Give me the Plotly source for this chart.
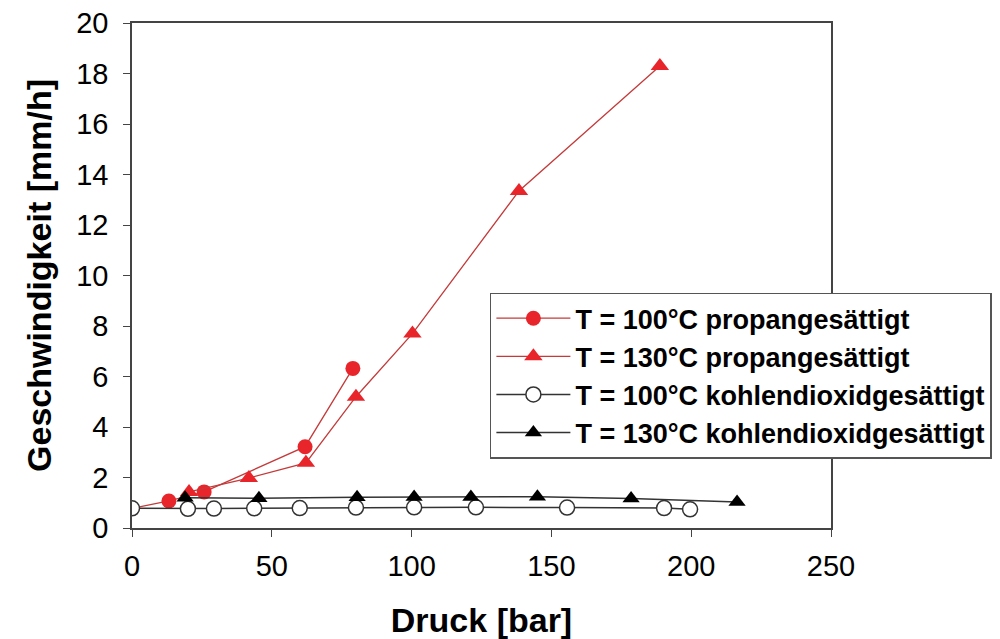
import plotly.graph_objects as go

# Druck [bar] and Geschwindigkeit [mm/h]
p_100_propan = [0, 13.2, 25.8, 61.9, 79.0]
v_100_propan = [0.78, 1.07, 1.43, 3.22, 6.32]

p_130_propan = [20.4, 41.8, 62.2, 80.1, 100.3, 138.4, 188.8]
v_130_propan = [1.43, 1.98, 2.58, 5.2, 7.7, 13.35, 18.3]

p_100_co2 = [0, 20.0, 29.3, 43.7, 60.0, 80.1, 100.9, 123.0, 155.6, 190.3, 199.6]
v_100_co2 = [0.78, 0.76, 0.77, 0.78, 0.79, 0.81, 0.82, 0.82, 0.81, 0.79, 0.74]

p_130_co2 = [19.0, 45.4, 80.5, 100.9, 121.2, 145.0, 178.5, 216.4]
v_130_co2 = [1.2, 1.18, 1.22, 1.23, 1.23, 1.24, 1.17, 1.03]

names = [
    "T = 100°C propangesättigt",
    "T = 130°C propangesättigt",
    "T = 100°C kohlendioxidgesättigt",
    "T = 130°C kohlendioxidgesättigt",
]

x_ticks = [0, 50, 100, 150, 200, 250]
y_ticks = [0, 2, 4, 6, 8, 10, 12, 14, 16, 18, 20]

FONT = "Liberation Sans, Arial, sans-serif"
RED = "#e8252b"
REDLINE = "#c43a3a"

fig = go.Figure()
fig.add_trace(go.Scatter(
    x=p_100_propan, y=v_100_propan, name=names[0], mode="lines+markers",
    line=dict(color=REDLINE, width=1.3),
    marker=dict(symbol="circle", size=15, color=RED, line=dict(width=0)),
))
fig.add_trace(go.Scatter(
    x=p_130_propan, y=v_130_propan, name=names[1], mode="lines+markers",
    line=dict(color=REDLINE, width=1.3),
    marker=dict(symbol="triangle-up", size=16, color=RED, line=dict(width=0)),
))
fig.add_trace(go.Scatter(
    x=p_100_co2, y=v_100_co2, name=names[2], mode="lines+markers",
    line=dict(color="#333333", width=1.5),
    marker=dict(symbol="circle", size=15, color="white", line=dict(width=1.5, color="#333333")),
))
fig.add_trace(go.Scatter(
    x=p_130_co2, y=v_130_co2, name=names[3], mode="lines+markers",
    line=dict(color="#333333", width=1.5),
    marker=dict(symbol="triangle-up", size=15, color="black", line=dict(width=0)),
))

axis_common = dict(
    showline=True, linecolor="#444444", linewidth=1.5, mirror=True,
    ticks="outside", ticklen=7, tickwidth=1.2, tickcolor="#444444",
    showgrid=False, zeroline=False, automargin=False,
    tickfont=dict(family=FONT, size=29, color="black"),
)

fig.update_layout(
    width=1000, height=639,
    margin=dict(l=132, r=169, t=23, b=111, autoexpand=False),
    paper_bgcolor="white", plot_bgcolor="white",
    font=dict(family=FONT, color="black"),
    xaxis=dict(
        range=[0, 250], tickvals=x_ticks, ticktext=[str(v) for v in x_ticks],
        ticklabelstandoff=4,
        title=dict(text="Druck [bar]", standoff=40,
                   font=dict(family=FONT, size=34, weight="bold", color="black")),
        **axis_common,
    ),
    yaxis=dict(
        range=[0, 20], tickvals=y_ticks, ticktext=[str(v) for v in y_ticks],
        ticklabelstandoff=9,
        title=dict(text="Geschwindigkeit [mm/h]", standoff=14,
                   font=dict(family=FONT, size=34, weight="bold", color="black")),
        **axis_common,
    ),
    legend=dict(
        x=0.512, y=0.466, xanchor="left", yanchor="top",
        bgcolor="white", bordercolor="#555555", borderwidth=1.5,
        font=dict(family=FONT, size=27, weight="bold", color="black"),
        itemwidth=74, tracegroupgap=0,
    ),
    showlegend=True,
)

fig.write_html("out.html", config={"displayModeBar": False},
               post_script="document.body.style.margin='0';")
